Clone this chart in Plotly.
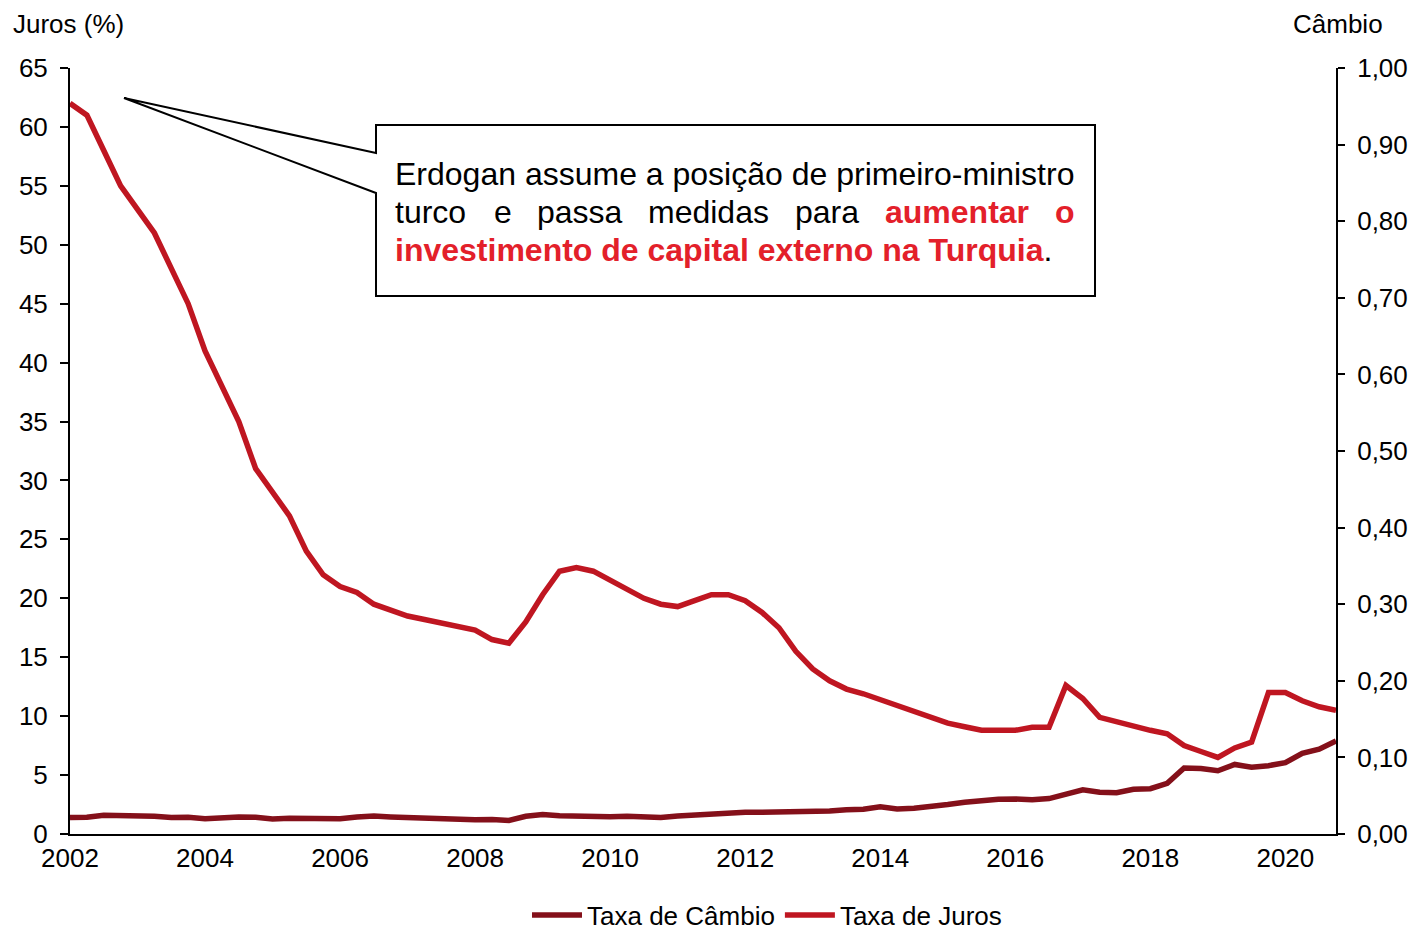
import plotly.graph_objects as go

# ---------------- data (quarterly, 2002Q1 .. 2020Q4) ----------------
quarters = [2002 + q / 4 for q in range(76)]

taxa_juros = [
    62.0, 61.0, 58.0, 55.0, 53.0, 51.0, 48.0, 45.0,
    41.0, 38.0, 35.0, 31.0, 29.0, 27.0, 24.0, 22.0,
    21.0, 20.5, 19.5, 19.0, 18.5, 18.2, 17.9, 17.6,
    17.3, 16.5, 16.2, 18.0, 20.3, 22.3, 22.6, 22.3,
    21.5, 20.8, 20.0, 19.5, 19.3, 19.8, 20.3, 20.3,
    19.8, 18.8, 17.5, 15.5, 14.0, 13.0, 12.3, 11.9,
    11.4, 10.9, 10.4, 9.9, 9.4, 9.1, 8.8, 8.8,
    8.8, 9.05, 9.05, 12.6, 11.5, 9.9, 9.5, 9.1,
    8.8, 8.5, 7.5, 7.0, 6.5, 7.3, 7.8, 12.0,
    12.0, 11.3, 10.8, 10.5,
]

taxa_cambio = [
    0.0214, 0.0218, 0.0246, 0.0246, 0.0246, 0.0231, 0.0215, 0.0218,
    0.0200, 0.0215, 0.0222, 0.0218, 0.0195, 0.0205, 0.0205, 0.0205,
    0.0200, 0.0223, 0.0234, 0.0223, 0.0215, 0.0205, 0.0192, 0.0182,
    0.0185, 0.0188, 0.0177, 0.0231, 0.0254, 0.0238, 0.0231, 0.0226,
    0.0226, 0.0231, 0.0226, 0.0215, 0.0234, 0.0246, 0.0269, 0.0285,
    0.0285, 0.0285, 0.0285, 0.0285, 0.0285, 0.0300, 0.0315, 0.0323,
    0.0354, 0.0326, 0.0335, 0.0354, 0.0385, 0.0415, 0.0438, 0.0454,
    0.0457, 0.0446, 0.0462, 0.0515, 0.0577, 0.0546, 0.0538, 0.0585,
    0.0592, 0.0662, 0.0862, 0.0854, 0.0826, 0.0908, 0.0871, 0.0892,
    0.0931, 0.1054, 0.1108, 0.1215,
]

x_ticks = [2002, 2004, 2006, 2008, 2010, 2012, 2014, 2016, 2018, 2020]
left_ticks = list(range(0, 70, 5))
right_ticks = [i / 10 for i in range(11)]

COL_CAMBIO = "#84101A"
COL_JUROS = "#BF1621"
COL_TEXT_RED = "#E3202A"
FONT = "Liberation Sans, Arial, sans-serif"
FS = 26

# ---------------- geometry helpers (pixel -> paper) ----------------
W, H = 1410, 934
L, R, T, B = 70, 74, 68, 100
PW, PH = W - L - R, H - T - B


def px(x):
    return (x - L) / PW


def py(y):
    return (H - B - y) / PH


fig = go.Figure()
fig.add_trace(go.Scatter(
    x=quarters, y=taxa_cambio, name="Taxa de Câmbio", yaxis="y2",
    mode="lines", line=dict(color=COL_CAMBIO, width=5.5),
))
fig.add_trace(go.Scatter(
    x=quarters, y=taxa_juros, name="Taxa de Juros", yaxis="y",
    mode="lines", line=dict(color=COL_JUROS, width=5.5),
))

# callout box with pointer
pts = [(376, 125), (1095, 125), (1095, 296), (376, 296), (376, 193), (124, 98), (376, 153)]
path = "M " + " L ".join(f"{px(a):.5f},{py(b):.5f}" for a, b in pts) + " Z"
shapes = [dict(type="path", xref="paper", yref="paper", path=path,
               line=dict(color="black", width=2), fillcolor="white", layer="above")]

ann = []
tf = dict(family=FONT, size=32, color="black")
tfr = dict(family=FONT, size=32, color=COL_TEXT_RED)
ann.append(dict(xref="paper", yref="paper", x=px(393), y=py(174), xanchor="left", yanchor="middle",
                text="Erdogan assume a posição de primeiro-ministro", showarrow=False, font=tf))
words2 = [("turco", 393, tf), ("e", 492, tf), ("passa", 535, tf), ("medidas", 646, tf),
          ("para", 793, tf), ("<b>aumentar</b>", 883, tfr), ("<b>o</b>", 1053, tfr)]
for w, xx, f in words2:
    ann.append(dict(xref="paper", yref="paper", x=px(xx), y=py(212), xanchor="left", yanchor="middle",
                    text=w, showarrow=False, font=f))
ann.append(dict(xref="paper", yref="paper", x=px(393), y=py(250), xanchor="left", yanchor="middle",
                text=f"<b><span style='color:{COL_TEXT_RED}'>investimento de capital externo na Turquia</span></b>.",
                showarrow=False, font=tf))

# axis titles
ann.append(dict(xref="paper", yref="paper", x=px(11), y=py(24), xanchor="left", yanchor="middle",
                text="Juros (%)", showarrow=False, font=dict(family=FONT, size=FS, color="black")))
ann.append(dict(xref="paper", yref="paper", x=px(1385), y=py(24), xanchor="right", yanchor="middle",
                text="Câmbio", showarrow=False, font=dict(family=FONT, size=FS, color="black")))

fig.update_layout(
    width=W, height=H,
    margin=dict(l=L, r=R, t=T, b=B, autoexpand=False),
    paper_bgcolor="white", plot_bgcolor="white",
    separators=",.",
    font=dict(family=FONT, size=FS, color="black"),
    showlegend=True,
    legend=dict(orientation="h", x=px(767), xanchor="center", y=py(915), yanchor="middle",
                font=dict(family=FONT, size=FS, color="black"), itemwidth=50,
                bgcolor="rgba(0,0,0,0)"),
    xaxis=dict(range=[2002, 2020.75], tickvals=x_ticks, ticktext=[str(v) for v in x_ticks],
               showgrid=False, zeroline=False, showline=True, linecolor="black", linewidth=2,
               ticks="", tickfont=dict(size=FS)),
    yaxis=dict(range=[0, 65], tickvals=left_ticks, showgrid=False, zeroline=False,
               showline=True, linecolor="black", linewidth=2, ticks="outside", ticklen=8,
               tickwidth=2, tickcolor="black", tickfont=dict(size=FS), ticklabelstandoff=7),
    yaxis2=dict(range=[0, 1], tickvals=right_ticks, tickformat=".2f", overlaying="y", side="right",
                showgrid=False, zeroline=False, showline=True, linecolor="black", linewidth=2,
                ticks="outside", ticklen=7, tickwidth=2, tickcolor="black", tickfont=dict(size=FS),
                ticklabelstandoff=7),
    shapes=shapes,
    annotations=ann,
)

fig.write_html("out.html")
